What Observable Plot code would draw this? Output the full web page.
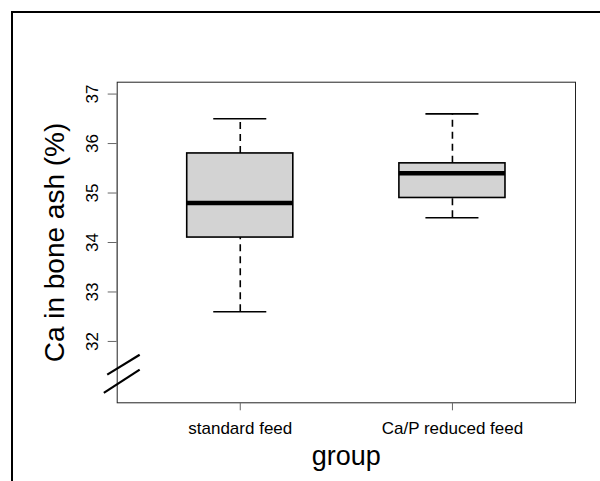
<!DOCTYPE html>
<html>
<head>
<meta charset="utf-8">
<script src="https://cdn.jsdelivr.net/npm/d3@7"></script>
<script src="https://cdn.jsdelivr.net/npm/@observablehq/plot@0.6"></script>
<style>
  html, body { margin: 0; padding: 0; background: #fff; }
  #chart { width: 600px; height: 481px; overflow: hidden; }
</style>
</head>
<body>
<div id="chart"></div>
<script>
// ---- data ----
const groups = ["standard feed", "Ca/P reduced feed"];
const whiskerLow = [32.6, 34.5];
const q1 = [34.1, 34.9];
const median = [34.8, 35.4];
const q3 = [35.8, 35.6];
const whiskerHigh = [36.5, 36.6];
const yTicks = [32, 33, 34, 35, 36, 37];
const yLimits = [31, 37];
// axis-break symbol (in data units)
const breakX1 = [0.373, 0.357];
const breakY1 = [31.33, 30.96];
const breakX2 = [0.526, 0.526];
const breakY2 = [31.73, 31.43];

const data = groups.map((g, i) => ({
  pos: i + 1, group: g,
  lo: whiskerLow[i], q1: q1[i], med: median[i], q3: q3[i], hi: whiskerHigh[i]
}));
const breaks = breakX1.map((x, i) => ({x1: x, y1: breakY1[i], x2: breakX2[i], y2: breakY2[i]}));

const ext = (a, b) => { const d = (b - a) * 0.04; return [a - d, b + d]; };
const boxHalf = 0.25, capHalf = 0.125;

const font = "'Liberation Sans', Arial, sans-serif";

const chart = Plot.plot({
  width: 600,
  height: 481,
  marginLeft: 116.7,
  marginRight: 25,
  marginTop: 81.7,
  marginBottom: 78.7,
  style: {fontFamily: font, background: "white", overflow: "visible"},
  x: {type: "linear", domain: ext(0.5, 2.5), axis: null},
  y: {type: "linear", domain: ext(yLimits[0], yLimits[1]), axis: null},
  marks: [
    Plot.frame({stroke: "#222", strokeWidth: 1}),
    // whiskers (dashed)
    Plot.ruleX(data, {x: "pos", y1: "q3", y2: "hi", stroke: "black", strokeWidth: 1.6, strokeDasharray: "7,5"}),
    Plot.ruleX(data, {x: "pos", y1: "lo", y2: "q1", stroke: "black", strokeWidth: 1.6, strokeDasharray: "7,5"}),
    // caps
    Plot.ruleY(data, {y: "hi", x1: d => d.pos - capHalf, x2: d => d.pos + capHalf, stroke: "black", strokeWidth: 1.6}),
    Plot.ruleY(data, {y: "lo", x1: d => d.pos - capHalf, x2: d => d.pos + capHalf, stroke: "black", strokeWidth: 1.6}),
    // boxes
    Plot.rect(data, {x1: d => d.pos - boxHalf, x2: d => d.pos + boxHalf, y1: "q1", y2: "q3", fill: "#d3d3d3", stroke: "black", strokeWidth: 1.6}),
    // medians
    Plot.ruleY(data, {y: "med", x1: d => d.pos - boxHalf, x2: d => d.pos + boxHalf, stroke: "black", strokeWidth: 4.5}),
    // y axis ticks
    Plot.axisY(yTicks, {tickSize: 9, tickFormat: () => "", stroke: "#666", strokeWidth: 1}),
    Plot.ruleX([0], {x: () => 0.42, y1: yTicks[0], y2: yTicks[yTicks.length - 1], stroke: "#666"}),
    Plot.text(yTicks, {y: d => d, text: d => String(d), frameAnchor: "left", dx: -19, rotate: -90,
      textAnchor: "middle", lineAnchor: "bottom", fontSize: 17, fill: "black"}),
    // x axis
    Plot.axisX(data.map(d => d.pos), {tickSize: 8, tickPadding: 11, tickFormat: p => groups[p - 1],
      fontSize: 17, stroke: "#666", fill: "black"}),
    // axis labels
    Plot.text(["Ca in bone ash (%)"], {text: d => d, frameAnchor: "left", dx: -62, rotate: -90,
      textAnchor: "middle", lineAnchor: "middle", fontSize: 28, fill: "black"}),
    Plot.text(["group"], {text: d => d, frameAnchor: "bottom", dy: 62.5,
      textAnchor: "middle", lineAnchor: "bottom", fontSize: 27, fill: "black"}),
    // axis break symbol
    Plot.link(breaks, {x1: "x1", y1: "y1", x2: "x2", y2: "y2", stroke: "black", strokeWidth: 2.2, clip: false})
  ]
});

// outer figure border (device frame)
d3.select(chart).append("path")
  .attr("d", "M12,481V12H600")
  .attr("fill", "none")
  .attr("stroke", "black")
  .attr("stroke-width", 2);

document.getElementById("chart").appendChild(chart);
</script>
</body>
</html>
